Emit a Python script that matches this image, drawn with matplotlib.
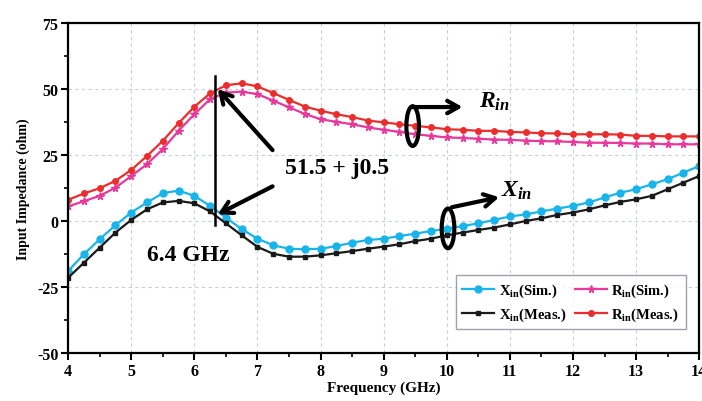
import numpy as np
import matplotlib
matplotlib.use("Agg")
import matplotlib.pyplot as plt
from matplotlib.patches import Ellipse
from matplotlib.ticker import MultipleLocator

# ==============================
# Data
# ==============================

freq = [4.0, 4.25, 4.5, 4.75, 5.0, 5.25, 5.5, 5.75, 6.0, 6.25, 6.5, 6.75,
        7.0, 7.25, 7.5, 7.75, 8.0, 8.25, 8.5, 8.75, 9.0, 9.25, 9.5, 9.75,
        10.0, 10.25, 10.5, 10.75, 11.0, 11.25, 11.5, 11.75, 12.0, 12.25,
        12.5, 12.75, 13.0, 13.25, 13.5, 13.75, 14.0]

x_sim = [-18.9, -12.6, -6.9, -1.6, 3.2, 7.0, 10.5, 11.5, 9.5, 5.7, 1.3, -3.1,
         -6.7, -9.2, -10.5, -10.7, -10.5, -9.5, -8.2, -7.2, -6.7, -5.7, -4.8,
         -3.8, -2.9, -1.9, -0.9, 0.4, 1.7, 2.5, 3.6, 4.7, 5.7, 7.0, 8.9, 10.7,
         12.0, 13.9, 15.8, 18.3, 20.8]

x_meas = [-21.5, -15.8, -10.1, -4.4, 0.4, 4.4, 7.0, 7.6, 6.7, 3.6, -0.9, -5.4,
          -9.8, -12.4, -13.5, -13.5, -13.0, -12.2, -11.4, -10.5, -9.7, -8.8,
          -7.6, -6.7, -5.4, -4.4, -3.4, -2.5, -1.3, 0.0, 1.0, 2.3, 3.2, 4.4,
          5.9, 7.2, 8.2, 9.5, 12.0, 14.5, 17.0]

r_sim = [5.5, 7.5, 9.5, 12.6, 17.0, 21.5, 27.2, 34.1, 40.4, 46.1, 48.6, 48.9,
         48.0, 45.5, 43.0, 40.5, 38.5, 37.5, 36.6, 35.4, 34.5, 33.7, 32.8,
         32.2, 31.6, 31.4, 31.1, 30.8, 30.7, 30.4, 30.2, 30.1, 29.9, 29.6,
         29.6, 29.5, 29.3, 29.3, 29.0, 29.0, 29.0]

r_meas = [8.0, 10.4, 12.4, 15.2, 19.3, 24.6, 30.3, 37.0, 43.2, 48.3, 51.3, 52.1,
          50.9, 48.4, 45.8, 43.3, 41.7, 40.4, 39.3, 38.0, 37.3, 36.6, 36.0,
          35.4, 34.7, 34.5, 34.1, 34.1, 33.7, 33.5, 33.2, 33.1, 32.8, 32.8,
          32.8, 32.7, 32.2, 32.2, 32.0, 32.0, 32.0]

# ==============================
# Style
# ==============================

plt.rcParams['font.family'] = ['Liberation Serif', 'DejaVu Serif']
plt.rcParams['font.weight'] = 'bold'
plt.rcParams['axes.unicode_minus'] = False
plt.rcParams['mathtext.fontset'] = 'custom'
plt.rcParams['mathtext.rm'] = 'Liberation Serif:bold'
plt.rcParams['mathtext.bf'] = 'Liberation Serif:bold'
plt.rcParams['mathtext.it'] = 'Liberation Serif:bold:italic'

c_cyan = '#19b4ea'
c_black = '#1a1a1a'
c_pink = '#e8389c'
c_red = '#ec2d2d'

fig = plt.figure(figsize=(7.02, 4.02), dpi=100)
ax = fig.add_axes([0.097, 0.119, 0.899, 0.822])

ax.plot(freq, x_sim, color=c_cyan, marker='o', ms=5, lw=1.6, label=r'X$_{\mathbf{in}}$(Sim.)')
ax.plot(freq, x_meas, color=c_black, marker='s', ms=3.2, lw=1.6, label=r'X$_{\mathbf{in}}$(Meas.)')
ax.plot(freq, r_sim, color=c_pink, marker='*', ms=5.5, lw=1.6, label=r'R$_{\mathbf{in}}$(Sim.)')
ax.plot(freq, r_meas, color=c_red, marker='o', ms=4, lw=1.6, label=r'R$_{\mathbf{in}}$(Meas.)')

ax.set_xlim(4, 14)
ax.set_ylim(-50, 75)
ax.xaxis.set_major_locator(MultipleLocator(1))
ax.xaxis.set_minor_locator(MultipleLocator(0.5))
ax.yaxis.set_major_locator(MultipleLocator(25))
ax.yaxis.set_minor_locator(MultipleLocator(12.5))
ax.tick_params(which='major', direction='out', length=5, width=1.5, labelsize=11.5, pad=2)
ax.tick_params(which='minor', direction='out', length=3, width=1.2)
for s in ax.spines.values():
    s.set_linewidth(1.6)

ax.grid(True, which='major', color='#c9cde0', ls=(0, (3, 3)), lw=0.8)

ax.set_xlabel('Frequency (GHz)', fontsize=11, fontweight='bold', labelpad=1)
ax.set_ylabel('Input Impedance (ohm)', fontsize=10, fontweight='bold', labelpad=5)

# ==============================
# Annotations
# ==============================

ax.plot([6.33, 6.33], [54.8, -1.6], color='black', lw=1.8)
arrow = dict(arrowstyle='->, head_length=0.8, head_width=0.45', lw=3, color='black',
             shrinkA=0, shrinkB=0)
ax.annotate('', xy=(6.37, 49.9), xytext=(7.24, 26.8), arrowprops=arrow)
ax.annotate('', xy=(6.37, 2.5), xytext=(7.24, 13.1), arrowprops=arrow)
ax.text(7.43, 20.3, '51.5 + j0.5', fontsize=17, fontweight='bold', va='center')
ax.text(5.25, -12.6, '6.4 GHz', fontsize=17, fontweight='bold', va='center')

ax.add_patch(Ellipse((9.46, 35.9), 0.2, 15, fill=False, lw=3, ec='black', zorder=5))
ax.annotate('', xy=(10.25, 43.1), xytext=(9.46, 43.1), arrowprops=arrow)
ax.text(10.51, 45.5, r'$R_{in}$', fontsize=17, va='center')

ax.add_patch(Ellipse((10.02, -2.8), 0.2, 15, fill=False, lw=3, ec='black', zorder=5))
ax.annotate('', xy=(10.83, 9.0), xytext=(10.08, 5.2), arrowprops=arrow)
ax.text(10.86, 11.8, r'$X_{in}$', fontsize=17, va='center')

leg = ax.legend(ncol=2, loc='lower right', bbox_to_anchor=(0.99, 0.05),
                fontsize=10.5, frameon=True, fancybox=False, edgecolor='#8a8a99',
                handlelength=2.2, columnspacing=0.6, handletextpad=0.3,
                labelspacing=0.45, borderpad=0.45)
leg.get_frame().set_linewidth(1.0)

fig.savefig('out.png', dpi=100)
